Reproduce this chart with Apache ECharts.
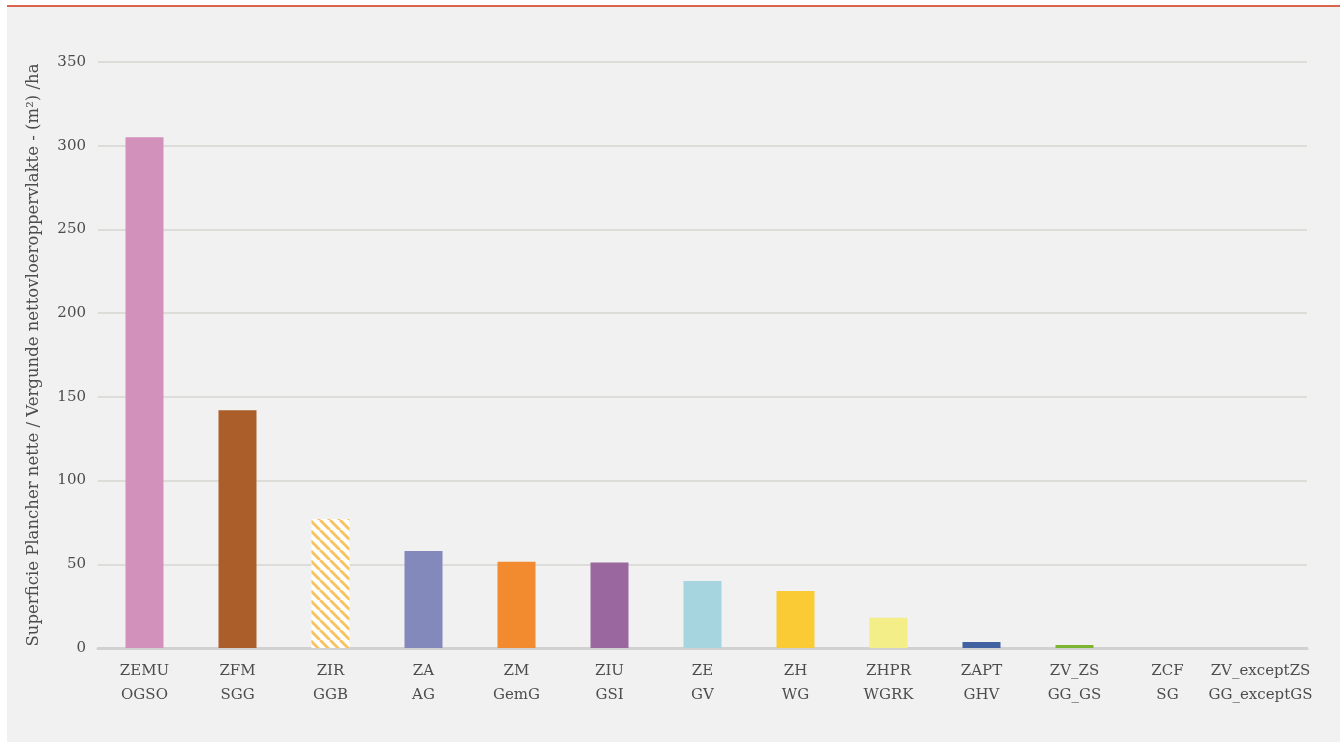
<!DOCTYPE html>
<html>
<head>
<meta charset="utf-8">
<script src="https://cdn.jsdelivr.net/npm/echarts@6/dist/echarts.min.js"></script>
<style>
  html, body { margin: 0; padding: 0; background: #fff; }
  .panel {
    position: absolute; left: 7px; top: 5px; width: 1333px; height: 737px;
    background: #f0f1f0; border-top: 2px solid #d9654f; box-sizing: border-box;
  }
  #chart { position: absolute; left: 0; top: 0; width: 1340px; height: 742px; }
</style>
</head>
<body>
<div class="panel"></div>
<div id="chart"></div>
<script>
// zones (FR / NL)
const zonesFr = ['ZEMU','ZFM','ZIR','ZA','ZM','ZIU','ZE','ZH','ZHPR','ZAPT','ZV_ZS','ZCF','ZV_exceptZS']
const zonesNl = ['OGSO','SGG','GGB','AG','GemG','GSI','GV','WG','WGRK','GHV','GG_GS','SG','GG_exceptGS']
const surface = [305, 142, 77, 58, 51.5, 51, 40, 34, 18, 3.6, 1.8, 0, 0]
const barColors = ['#d291bb','#ab5e2a','hatch','#8489bb','#f28a30','#9a689e','#a6d5df','#facb34','#f3ee87','#4161a1','#7cb531','#999','#999']
const yTicks = [0, 50, 100, 150, 200, 250, 300, 350]

// hachures jaunes pour ZIR
function hatch() {
  const c = document.createElement('canvas')
  c.width = 10; c.height = 10
  const g = c.getContext('2d')
  g.fillStyle = '#ffffff'; g.fillRect(0, 0, 10, 10)
  g.strokeStyle = '#f8c462'; g.lineWidth = 3
  for (let k = -10; k <= 20; k += 10) {
    g.beginPath(); g.moveTo(k, 0); g.lineTo(k + 10, 10); g.stroke()
  }
  return { image: c, repeat: 'repeat' }
}
const hatchFill = hatch()

const font = 'DejaVu Serif'
const txt = '#4d4d4d'

const chart = echarts.init(document.getElementById('chart'))
chart.setOption({
  animation: false,
  backgroundColor: 'transparent',
  grid: { left: 98, right: 33, top: 62, bottom: 94 },
  xAxis: {
    type: 'category',
    data: zonesFr.map((z, i) => z + '\n' + zonesNl[i]),
    axisLine: { lineStyle: { color: '#d3d1cf', width: 3 } },
    axisTick: { show: false },
    axisLabel: { color: txt, fontFamily: font, fontSize: 15, lineHeight: 24, margin: 11, interval: 0 },
  },
  yAxis: {
    type: 'value',
    min: yTicks[0], max: yTicks[yTicks.length - 1], interval: 50,
    name: 'Superficie Plancher nette / Vergunde nettovloeroppervlakte - (m²) /ha',
    nameLocation: 'middle', nameGap: 56,
    nameTextStyle: { color: txt, fontFamily: font, fontSize: 16.5 },
    axisLine: { show: false },
    axisTick: { show: false },
    axisLabel: { color: txt, fontFamily: font, fontSize: 15, margin: 12 },
    splitLine: { lineStyle: { color: '#d6d4d2', width: 1.5 } },
  },
  series: [{
    type: 'bar',
    barWidth: 38,
    data: surface.map((v, i) => ({
      value: v,
      itemStyle: { color: barColors[i] === 'hatch' ? hatchFill : barColors[i] },
    })),
  }],
})
</script>
</body>
</html>
